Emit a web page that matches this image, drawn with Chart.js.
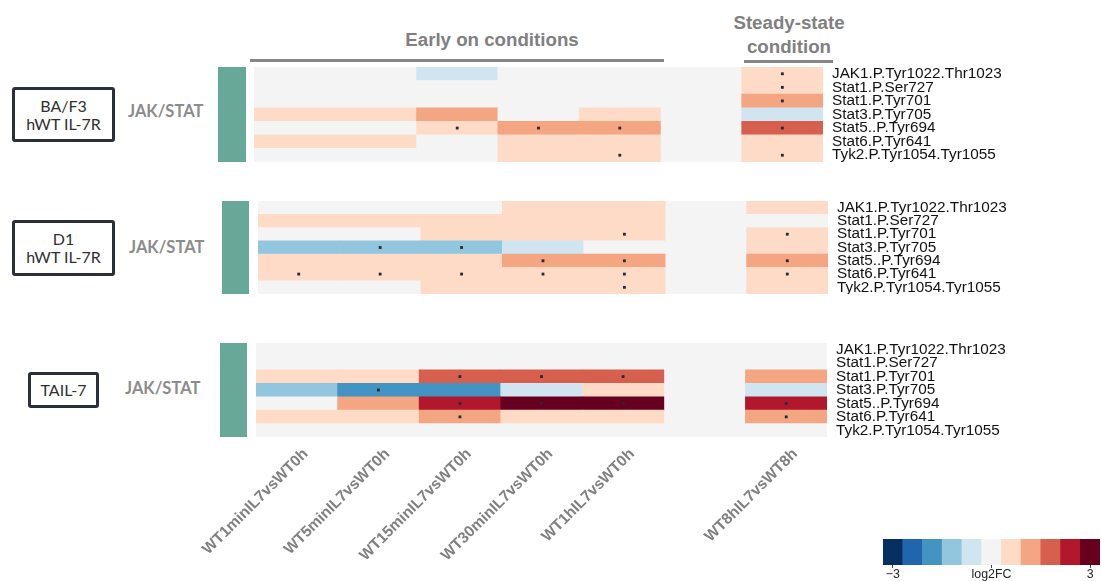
<!DOCTYPE html>
<html>
<head>
<meta charset="utf-8">
<script src="https://cdn.jsdelivr.net/npm/chart.js@4/dist/chart.umd.min.js"></script>
<style>
  html, body { margin: 0; padding: 0; }
  body { width: 1101px; height: 581px; background: #fff; position: relative; overflow: hidden;
         font-family: 'Liberation Sans', Arial, sans-serif; }
  .abs { position: absolute; }
  .header { color: #808080; font-weight: bold; font-size: 18.7px; text-align: center; line-height: 24px; }
  .rule { background: #868686; height: 2.5px; }
  .cellbox { box-sizing: border-box; border: 3px solid #2b2f3a; border-radius: 3px;
             display: flex; align-items: center; justify-content: center; text-align: center;
             font-family: Lato, 'Open Sans', sans-serif; font-size: 16px; line-height: 18px; color: #2f2f2f; }
  .pathway { font-family: Lato, 'Open Sans', sans-serif; font-weight: bold; font-size: 16.5px;
             line-height: 20px; color: #8c8c8c; }
  .annot { background: #68a898; }
</style>
</head>
<body>

<div class="abs header" style="left:392px; top:28px; width:200px;">Early on conditions</div>
<div class="abs rule" style="left:250px; top:59px; width:414px;"></div>
<div class="abs header" style="left:709px; top:11px; width:160px;">Steady-state<br>condition</div>
<div class="abs rule" style="left:744px; top:60px; width:89px;"></div>

<div class="abs cellbox" style="left:12px; top:87px; width:103px; height:55px;">BA/F3<br>hWT IL-7R</div>
<div class="abs cellbox" style="left:12px; top:220px; width:103px; height:56px;">D1<br>hWT IL-7R</div>
<div class="abs cellbox" style="left:28px; top:372px; width:71px; height:36px;">TAIL-7</div>

<div class="abs pathway" style="left:128px; top:101px;">JAK/STAT</div>
<div class="abs pathway" style="left:129px; top:237px;">JAK/STAT</div>
<div class="abs pathway" style="left:125px; top:378px;">JAK/STAT</div>

<div class="abs annot" style="left:218px; top:67px; width:28px; height:95px;"></div>
<div class="abs annot" style="left:222px; top:201px; width:27px; height:93px;"></div>
<div class="abs annot" style="left:220px; top:343px; width:27px; height:94px;"></div>

<canvas id="hmBaf3" class="abs" style="left:254px; top:67px;" width="789" height="95"></canvas>
<canvas id="hmD1" class="abs" style="left:258px; top:201px;" width="790" height="93"></canvas>
<canvas id="hmTail7" class="abs" style="left:150px; top:343px;" width="897" height="238"></canvas>
<canvas id="scaleBar" class="abs" style="left:873px; top:539px;" width="228" height="44"></canvas>

<script>
// Phospho-sites (rows) and contrasts (columns)
const rows = [
  'JAK1.P.Tyr1022.Thr1023',
  'Stat1.P.Ser727',
  'Stat1.P.Tyr701',
  'Stat3.P.Tyr705',
  'Stat5..P.Tyr694',
  'Stat6.P.Tyr641',
  'Tyk2.P.Tyr1054.Tyr1055'
];
const conditions = [
  'WT1minIL7vsWT0h',
  'WT5minIL7vsWT0h',
  'WT15minIL7vsWT0h',
  'WT30minIL7vsWT0h',
  'WT1hIL7vsWT0h',
  'WT8hIL7vsWT8h'
];

// log2 fold changes, one row per site, one column per contrast
const baf3Values = [
  [0.05, 0.12, -0.47, 0.18, 0.09, 0.58],
  [0.11, 0.02, 0.21, 0.15, 0.24, 0.66],
  [-0.04, 0.07, 0.19, 0.22, 0.26, 1.23],
  [0.52, 0.44, 1.08, 0.21, 0.57, -0.49],
  [0.17, 0.25, 0.71, 1.19, 1.27, 1.86],
  [0.41, 0.36, 0.23, 0.62, 0.55, 0.47],
  [0.12, 0.18, 0.27, 0.58, 0.73, 0.68]
];
const d1Values = [
  [0.16, 0.21, 0.24, 0.45, 0.52, 0.61],
  [0.39, 0.48, 0.53, 0.57, 0.49, 0.19],
  [0.14, 0.22, 0.46, 0.61, 0.72, 0.64],
  [-1.14, -1.28, -1.06, -0.54, -0.21, 0.42],
  [0.48, 0.52, 0.69, 1.21, 1.34, 1.17],
  [0.63, 0.71, 0.66, 0.58, 0.77, 0.69],
  [0.18, 0.26, 0.43, 0.51, 0.74, 0.46]
];
const tail7Values = [
  [0.06, -0.11, -0.08, 0.14, 0.12, 0.21],
  [0.09, 0.13, 0.17, 0.21, 0.11, 0.04],
  [0.46, 0.53, 1.83, 1.79, 1.88, 1.21],
  [-1.17, -1.74, -1.82, -0.58, 0.44, -0.51],
  [0.24, 1.26, 2.38, 2.94, 3.05, 2.41],
  [0.52, 0.61, 1.24, 0.57, 0.49, 1.13],
  [0.03, 0.08, 0.15, 0.12, 0.19, 0.07]
];

// 1 = significant change (marked with a dot)
const baf3Signif = [
  [0, 0, 0, 0, 0, 1],
  [0, 0, 0, 0, 0, 1],
  [0, 0, 0, 0, 0, 1],
  [0, 0, 0, 0, 0, 0],
  [0, 0, 1, 1, 1, 1],
  [0, 0, 0, 0, 0, 0],
  [0, 0, 0, 0, 1, 1]
];
const d1Signif = [
  [0, 0, 0, 0, 0, 0],
  [0, 0, 0, 0, 0, 0],
  [0, 0, 0, 0, 1, 1],
  [0, 1, 1, 0, 0, 0],
  [0, 0, 0, 1, 1, 1],
  [1, 1, 1, 1, 1, 1],
  [0, 0, 0, 0, 1, 0]
];
const tail7Signif = [
  [0, 0, 0, 0, 0, 0],
  [0, 0, 0, 0, 0, 0],
  [0, 0, 1, 1, 1, 0],
  [0, 1, 0, 0, 0, 0],
  [0, 0, 1, 1, 1, 1],
  [0, 0, 1, 0, 0, 1],
  [0, 0, 0, 0, 0, 0]
];

// Diverging colour scale (RdBu, 11 steps) and its step centres
const palette = ['#053061', '#2166ac', '#4393c3', '#92c5de', '#d1e5f0', '#f4f4f4',
                 '#fddbc7', '#f4a582', '#d6604d', '#b2182b', '#67001f'];
const paletteSteps = [-3, -2.4, -1.8, -1.2, -0.6, 0, 0.6, 1.2, 1.8, 2.4, 3];
const colorbarTicks = [-3, 0, 3];
const colorbarTitle = 'log2FC';

const STEP = 0.6;
function colorFor(v) {
  let k = Math.round((v - paletteSteps[0]) / STEP);
  k = Math.max(0, Math.min(palette.length - 1, k));
  return palette[k];
}

// early contrasts sit side by side; the steady-state one after a one-column gap
const columnStart = [0, 1, 2, 3, 4, 6];
const X_MAX = 7;
const NEUTRAL = '#f4f4f4';

// keep the axes from reserving room for overhanging labels
function noOverhang(scale) {
  scale.paddingTop = 0;
  scale.paddingBottom = 0;
  scale.paddingLeft = 0;
  scale.paddingRight = 0;
}

const panelBackground = {
  id: 'panelBackground',
  beforeDatasetsDraw(chart) {
    const a = chart.chartArea;
    const ctx = chart.ctx;
    ctx.save();
    ctx.fillStyle = NEUTRAL;
    ctx.fillRect(a.left, a.top, a.right - a.left, a.bottom - a.top);
    ctx.restore();
  }
};

function drawPanel(id, values, signif, opts) {
  const cells = [], colors = [], dots = [];
  rows.forEach((site, i) => {
    conditions.forEach((cond, j) => {
      cells.push({ y: site, x: [columnStart[j], columnStart[j] + 1] });
      colors.push(colorFor(values[i][j]));
      if (signif[i][j]) dots.push({ x: columnStart[j] + 0.5, y: site });
    });
  });

  return new Chart(document.getElementById(id), {
    type: 'bar',
    data: {
      labels: rows,
      datasets: [
        {
          type: 'scatter',
          data: dots,
          pointStyle: 'rect',
          pointRadius: 2,
          pointHoverRadius: 2,
          backgroundColor: '#262a38',
          borderWidth: 0,
          order: 0
        },
        {
          type: 'bar',
          data: cells,
          backgroundColor: colors,
          borderWidth: 0,
          barPercentage: 1,
          categoryPercentage: 1,
          grouped: false,
          order: 1
        }
      ]
    },
    options: {
      indexAxis: 'y',
      responsive: false,
      animation: false,
      events: [],
      layout: { autoPadding: false, padding: { left: opts.padLeft || 0, right: 0, top: 0, bottom: 0 } },
      plugins: { legend: { display: false }, tooltip: { enabled: false } },
      scales: {
        x: {
          type: 'linear',
          min: 0,
          max: X_MAX,
          display: !!opts.showColumns,
          grid: { display: false, drawTicks: false },
          border: { display: false },
          afterBuildTicks: (scale) => {
            scale.ticks = columnStart.map(s => ({ value: s + 0.5 }));
          },
          afterFit: (scale) => { scale.height = opts.columnAxisHeight || 0; noOverhang(scale); },
          ticks: {
            autoSkip: false,
            minRotation: 45,
            maxRotation: 45,
            padding: 8,
            labelOffset: 9,
            color: '#808080',
            font: { family: 'Liberation Sans', size: 15.5, weight: 'bold' },
            callback: (v, idx) => conditions[idx]
          }
        },
        y: {
          type: 'category',
          labels: rows,
          position: 'right',
          offset: true,
          grid: { display: false, drawTicks: false },
          border: { display: false },
          afterFit: (scale) => { scale.width = opts.labelWidth; noOverhang(scale); },
          ticks: {
            autoSkip: false,
            padding: 9,
            color: '#111',
            font: { family: 'Liberation Sans', size: 15.3 }
          }
        }
      }
    },
    plugins: [panelBackground]
  });
}

drawPanel('hmBaf3', baf3Values, baf3Signif, { labelWidth: 220 });
drawPanel('hmD1', d1Values, d1Signif, { labelWidth: 220 });
drawPanel('hmTail7', tail7Values, tail7Signif, {
  labelWidth: 220, padLeft: 106, showColumns: true, columnAxisHeight: 144
});

// colour key
new Chart(document.getElementById('scaleBar'), {
  type: 'bar',
  data: {
    labels: [colorbarTitle],
    datasets: [{
      data: paletteSteps.map(s => ({ y: colorbarTitle, x: [s - STEP / 2, s + STEP / 2] })),
      backgroundColor: paletteSteps.map(s => colorFor(s)),
      borderWidth: 0,
      barPercentage: 1,
      categoryPercentage: 1
    }]
  },
  options: {
    indexAxis: 'y',
    responsive: false,
    animation: false,
    events: [],
    layout: { autoPadding: false, padding: { left: 10, right: 1, top: 0, bottom: 0 } },
    plugins: { legend: { display: false }, tooltip: { enabled: false } },
    scales: {
      x: {
        type: 'linear',
        min: paletteSteps[0] - STEP / 2,
        max: paletteSteps[paletteSteps.length - 1] + STEP / 2,
        grid: { drawOnChartArea: false, drawTicks: true, tickLength: 3, color: '#444' },
        border: { display: false },
        afterBuildTicks: (scale) => { scale.ticks = colorbarTicks.map(v => ({ value: v })); },
        afterFit: (scale) => { scale.height = 18; noOverhang(scale); },
        ticks: {
          padding: -1,
          color: '#222',
          font: { family: 'Liberation Sans', size: 12.4 },
          callback: (v) => v === 0 ? colorbarTitle : (v < 0 ? '\u2212' + Math.abs(v) : String(v))
        }
      },
      y: { type: 'category', labels: [colorbarTitle], offset: true, display: false }
    }
  }
});
</script>
</body>
</html>
